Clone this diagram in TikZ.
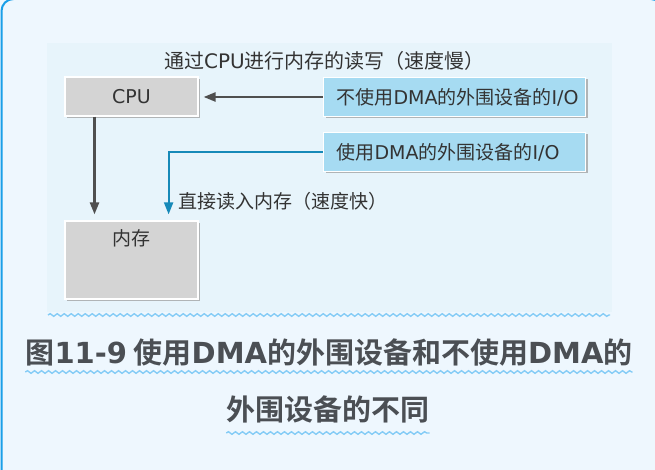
\documentclass[tikz,border=0pt]{standalone}
\usepackage{fontspec}
\setmainfont{Noto Sans CJK SC}
\newfontfamily\capfont{Noto Sans CJK SC Bold}
\newfontfamily\latfont{DejaVu Sans}
\newfontfamily\latbold{DejaVu Sans Bold}
\newcommand\lat[1]{{\latfont #1}}
\newcommand\latb[1]{{\latbold #1}}
\usetikzlibrary{positioning,shadows,arrows.meta,decorations.pathmorphing}

\definecolor{pagebg}{HTML}{EEF7FE}
\definecolor{panelbg}{HTML}{E7F4FB}
\definecolor{frameblue}{HTML}{1A9FE8}
\definecolor{boxgray}{HTML}{D4D4D4}
\definecolor{boxblue}{HTML}{A6DBF2}
\definecolor{arrowgray}{HTML}{4F4F4F}
\definecolor{arrowblue}{HTML}{1689B8}
\definecolor{wavyblue}{HTML}{85CCF6}
\definecolor{captext}{HTML}{4B4F54}

\tikzset{
  unitbox/.style={rectangle,draw=white,line width=1.2pt,inner sep=0pt,
    drop shadow={shadow xshift=2pt,shadow yshift=-2pt,fill=black!40,opacity=.7},
    font=\fontsize{19}{22}\selectfont,text=black!80},
  graybox/.style={unitbox,fill=boxgray,minimum width=133pt},
  iobox/.style={unitbox,fill=boxblue,minimum width=262pt,minimum height=39pt,
    text width=236pt,align=left},
  note/.style={font=\fontsize{19}{22}\selectfont,text=black!80,inner sep=0pt},
  caption/.style={font=\capfont\fontsize{29}{34}\selectfont,text=captext,inner sep=0pt},
  grayarrow/.style={draw=arrowgray,line width=2.4pt,-{Triangle[length=12pt,width=9pt]}},
  bluearrow/.style={draw=arrowblue,line width=2pt,-{Triangle[length=12pt,width=9pt]}},
  wavy/.style={draw=wavyblue,line width=1.4pt,decorate,
    decoration={snake,amplitude=1.3pt,segment length=7pt}}
}

\begin{document}
\begin{tikzpicture}[x=1pt,y=-1pt]
  \useasboundingbox (0,0) rectangle (655,470);
  \fill[pagebg] (0,0) rectangle (655,470);
  \draw[frameblue,line width=2pt,rounded corners=12pt] (1.5,480) -- (1.5,-1) -- (663,-1) -- (663,480);
  \fill[panelbg] (47,43) rectangle (612,312);

  % boxes
  \node[graybox,minimum height=39pt] (cpu) at (131.5,96.5) {\lat{CPU}};
  \node[graybox,minimum height=78pt] (mem) at (131.5,260) {};
  \node[note,below=9pt of mem.north] (memtext) {内存};
  \node[iobox] (io1) at (454.5,97) {不使用\lat{DMA}的外围设备的\lat{I/O}};
  \node[iobox] (io2) at (454.5,152) {使用\lat{DMA}的外围设备的\lat{I/O}};

  % labels
  \node[note,anchor=west,font=\fontsize{20}{23}\selectfont] (slowtext) at (164,61) {通过\lat{CPU}进行内存的读写（速度慢）};
  \node[note,anchor=west] (fasttext) at (178,201) {直接读入内存（速度快）};

  % connectors
  \draw[grayarrow,shorten >=5pt] (io1.west) -- (io1.west -| cpu.east);
  \draw[grayarrow,shorten >=6pt] ([xshift=-37pt]cpu.south) -- ([xshift=-37pt]mem.north);
  \draw[bluearrow,shorten >=6pt] (io2.west) -| ([xshift=-30pt]mem.north east);

  % caption
  \draw[wavy] (48,315) -- (610,315);
  \node[caption] (cap1) at (329,352) {图\latb{11-9} 使用\latb{DMA}的外围设备和不使用\latb{DMA}的};
  \node[caption] (cap2) at (328,409) {外围设备的不同};
  \draw[wavy] (cap1.south west |- 0,372) -- (cap1.south east |- 0,372);
  \draw[wavy] (cap2.south west |- 0,433) -- (cap2.south east |- 0,433);
\end{tikzpicture}
\end{document}
